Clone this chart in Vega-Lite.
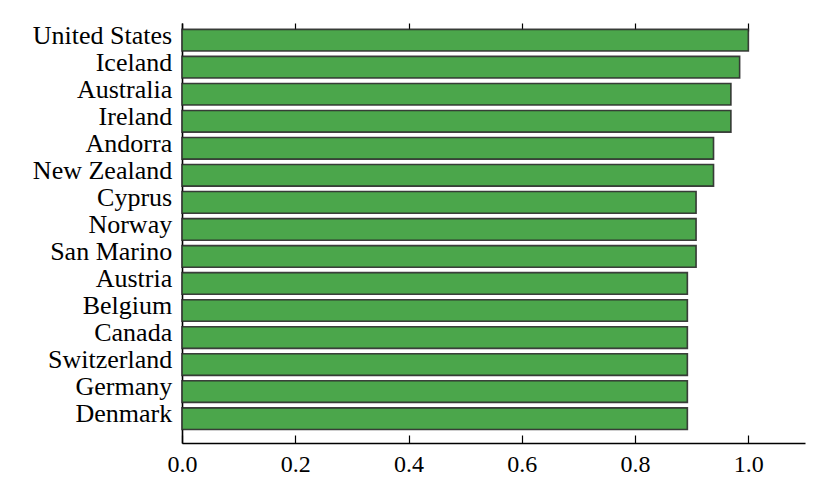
{
  "$schema": "https://vega.github.io/schema/vega-lite/v6.json",
  "width": 623,
  "height": 420,
  "autosize": {"type": "none"},
  "padding": {"left": 182, "top": 23, "right": 25, "bottom": 55},
  "background": "white",
  "config": {"view": {"stroke": null}},
  "data": {
    "values": [
      {"country": "United States", "value": 1.0},
      {"country": "Iceland", "value": 0.9846},
      {"country": "Australia", "value": 0.9692},
      {"country": "Ireland", "value": 0.9692},
      {"country": "Andorra", "value": 0.9385},
      {"country": "New Zealand", "value": 0.9385},
      {"country": "Cyprus", "value": 0.9077},
      {"country": "Norway", "value": 0.9077},
      {"country": "San Marino", "value": 0.9077},
      {"country": "Austria", "value": 0.8923},
      {"country": "Belgium", "value": 0.8923},
      {"country": "Canada", "value": 0.8923},
      {"country": "Switzerland", "value": 0.8923},
      {"country": "Germany", "value": 0.8923},
      {"country": "Denmark", "value": 0.8923}
    ]
  },
  "layer": [
    {
      "mark": {"type": "bar", "fill": "#4ba64b", "stroke": "#2b2b2b", "strokeWidth": 1.6, "strokeOpacity": 0.9},
      "encoding": {
        "y": {
          "field": "country", "type": "nominal", "sort": null,
          "scale": {"paddingInner": 0.2, "paddingOuter": 0.3685, "align": 0.32},
          "axis": {
            "title": null, "domain": true, "domainColor": "black", "domainWidth": 1.6,
            "ticks": true, "tickColor": "black", "tickWidth": 1.2, "tickSize": -8, "tickOffset": -3,
            "labelFont": "Liberation Serif", "labelFontSize": 26, "labelColor": "black",
            "labelPadding": 18.3, "labelOffset": -2, "grid": false
          }
        },
        "x": {
          "field": "value", "type": "quantitative",
          "scale": {"domain": [0, 1.1], "nice": false, "zero": true},
          "axis": {
            "title": null, "orient": "bottom", "values": [0, 0.2, 0.4, 0.6, 0.8, 1.0], "format": ".1f",
            "domain": true, "domainColor": "black", "domainWidth": 1.6,
            "ticks": true, "tickColor": "black", "tickWidth": 1.2, "tickSize": -8,
            "labelFont": "Liberation Serif", "labelFontSize": 24, "labelColor": "black",
            "labelPadding": 17, "labelFlush": false, "grid": false
          }
        }
      }
    },
    {
      "mark": {"type": "bar", "opacity": 0},
      "encoding": {
        "y": {"field": "country", "type": "nominal", "sort": null},
        "x": {
          "field": "value", "type": "quantitative",
          "axis": {
            "title": null, "orient": "top", "values": [0, 0.2, 0.4, 0.6, 0.8, 1.0],
            "domain": false, "labels": false,
            "ticks": true, "tickColor": "black", "tickWidth": 1.2, "tickSize": -8, "grid": false
          }
        }
      }
    }
  ],
  "resolve": {"axis": {"x": "independent", "y": "shared"}}
}
